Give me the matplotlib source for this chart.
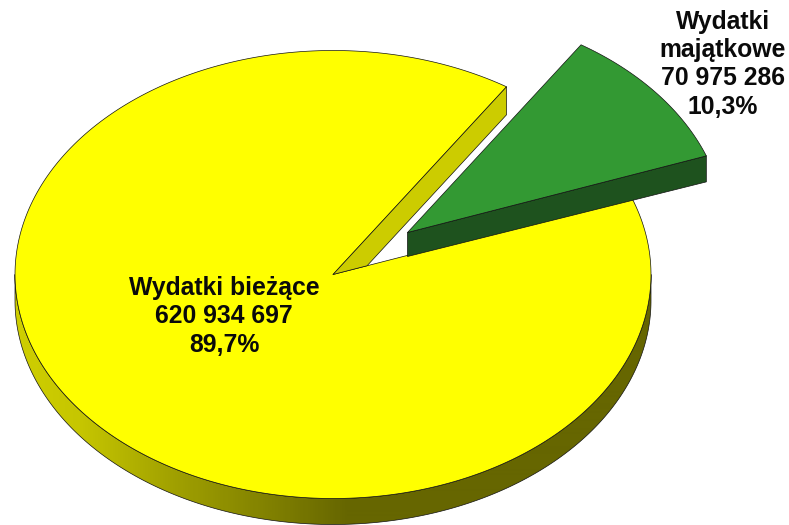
import numpy as np
import matplotlib
matplotlib.use("Agg")
import matplotlib.pyplot as plt
from matplotlib.colors import LinearSegmentedColormap
from matplotlib.patches import Polygon

labels = ["Wydatki bieżące", "Wydatki\nmajątkowe"]
values = [620934697, 70975286]
value_texts = ["620 934 697", "70 975 286"]
percents = ["89,7%", "10,3%"]

W, H = 789, 525
fig = plt.figure(figsize=(W / 100, H / 100), dpi=100)
ax = fig.add_axes([0, 0, 1, 1])
ax.set_xlim(0, W)
ax.set_ylim(H, 0)
ax.axis("off")

CX, CY, A, B, DEPTH = 333.0, 274.5, 318.0, 224.0, 26.0
OFFSET = (74.5, -42.0)
START = 20.0
LW = 0.5
EDGE = "#111111"

span_small = 360.0 * values[1] / sum(values)
a0, a1 = START, START + span_small


def arc(t0, t1, cx=CX, cy=CY, n=300):
    t = np.radians(np.linspace(t0, t1, n))
    return np.column_stack([cx + A * np.cos(t), cy - B * np.sin(t)])


def poly(pts, fc, z, ec=EDGE, lw=LW):
    p = Polygon(pts, closed=True, facecolor=fc, edgecolor=ec, linewidth=lw, zorder=z, joinstyle="round")
    ax.add_patch(p)
    return p


# outer wall of the big slice, with a horizontal gradient
front = arc(180, 360)
wall = np.vstack([front, (front + [0, DEPTH])[::-1]])
cmap = LinearSegmentedColormap.from_list(
    "wall", [(0, "#cfcf00"), (0.1, "#c6c600"), (0.25, "#a0a000"), (0.4, "#808000"),
             (0.52, "#666600"), (1, "#666600")]
)
clip = poly(wall, "none", 1.2)
img = ax.imshow(
    np.linspace(0, 1, 640)[None, :], cmap=cmap, vmin=0, vmax=1, aspect="auto",
    extent=(15, 655, H, 0), zorder=1, interpolation="bilinear",
)
img.set_clip_path(clip)
ax.set_xlim(0, W)
ax.set_ylim(H, 0)

# top of the big slice
apex = np.array([[CX, CY]])
poly(np.vstack([apex, arc(a1, START + 360)]), "#ffff00", 2)

# inner wall of the big slice, visible through the gap
edge_pt = arc(a1, a1, n=1)[0]
dir_pt = arc(START, START, n=1)[0]
low = apex[0] + (dir_pt - apex[0]) * 0.114
poly(np.array([apex[0], edge_pt, edge_pt + [0, 28], low]), "#cccc00", 3)

# pulled-out slice
gx, gy = CX + OFFSET[0], CY + OFFSET[1]
g_apex = np.array([gx, gy])
g_a = arc(a0, a0, gx, gy, n=1)[0]
poly(np.array([g_apex, g_a, g_a + [0, DEPTH], g_apex + [0, 24]]), "#1e521e", 4)
poly(np.vstack([[g_apex], arc(a0, a1, gx, gy)]), "#339933", 5)

font = dict(family="Liberation Sans", weight="bold", color="#0a0a0a", ha="center", va="center", zorder=6)
FS = 17.8
for y, s in zip([288, 316, 345], [labels[0], value_texts[0], percents[0]]):
    ax.text(224, y, s, fontsize=FS, **font)
for y, s in zip([22, 50, 78, 107], labels[1].split("\n") + [value_texts[1], percents[1]]):
    ax.text(723, y, s, fontsize=FS, **font)

fig.savefig("out.png", dpi=100)
